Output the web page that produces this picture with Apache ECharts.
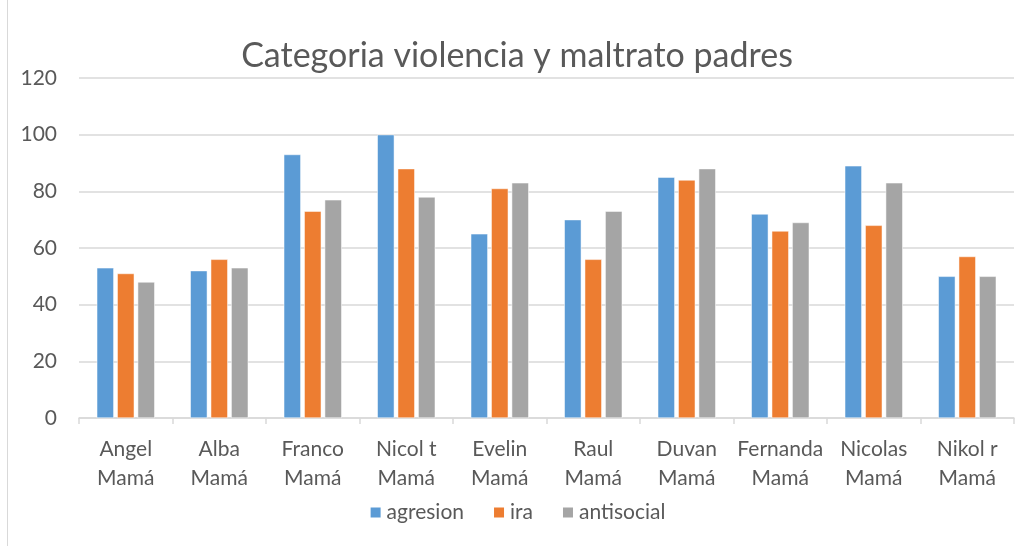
<!DOCTYPE html>
<html>
<head>
    <meta charset="utf-8">
    <script src="https://cdnjs.cloudflare.com/ajax/libs/echarts/6.0.0/echarts.min.js"></script>
</head>
<body>
    <div id="main"></div>
    <style>
html,body { height: 100%; margin: 0; padding: 0; background: #fff; }
#main { position: absolute; left: 7px; top: 0; width: 1019px; height: 546px; box-sizing: border-box; border-left: 1px solid #d9d9d9; }
    </style>
    <script type="text/javascript">
var categories = ['Angel\nMamá', 'Alba\nMamá', 'Franco\nMamá', 'Nicol t\nMamá', 'Evelin\nMamá',
                  'Raul\nMamá', 'Duvan\nMamá', 'Fernanda\nMamá', 'Nicolas\nMamá', 'Nikol r\nMamá'];
var agresion = [53, 52, 93, 100, 65, 70, 85, 72, 89, 50];
var ira = [51, 56, 73, 88, 81, 56, 84, 66, 68, 57];
var antisocial = [48, 53, 77, 78, 83, 73, 88, 69, 83, 50];

var font = 'Lato, "Open Sans", sans-serif';
var textColor = '#595959';

function barSeries(name, data, color) {
    return {
        name: name,
        type: 'bar',
        data: data,
        barGap: '20%',
        barCategoryGap: '38%',
        itemStyle: { color: color, borderColor: '#fff', borderWidth: 0.5 }
    };
}

var chart = echarts.init(document.getElementById('main'));
chart.setOption({
    animation: false,
    title: {
        text: 'Categoria violencia y maltrato padres',
        left: 'center',
        top: 34,
        textStyle: { fontFamily: font, fontSize: 34, fontWeight: 'normal', color: textColor }
    },
    legend: {
        bottom: 18,
        left: 'center',
        itemWidth: 12,
        itemHeight: 12,
        itemGap: 28,
        icon: 'rect',
        textStyle: { fontFamily: font, fontSize: 21, color: textColor }
    },
    grid: { left: 71, right: 12, top: 78, bottom: 128 },
    xAxis: {
        type: 'category',
        data: categories,
        axisLine: { lineStyle: { color: '#d9d9d9', width: 1.5 } },
        axisTick: { show: true, length: 6, lineStyle: { color: '#d9d9d9', width: 1.5 } },
        axisLabel: { interval: 0, fontFamily: font, fontSize: 21, color: textColor, lineHeight: 29, margin: 17 }
    },
    yAxis: {
        type: 'value',
        min: 0,
        max: 120,
        interval: 20,
        axisLine: { show: false },
        axisTick: { show: false },
        splitLine: { lineStyle: { color: '#d9d9d9', width: 1.5 } },
        axisLabel: { fontFamily: font, fontSize: 21, color: textColor, margin: 22 }
    },
    series: [
        barSeries('agresion', agresion, '#5b9bd5'),
        barSeries('ira', ira, '#ed7d31'),
        barSeries('antisocial', antisocial, '#a5a5a5')
    ]
});
    </script>
</body>
</html>
